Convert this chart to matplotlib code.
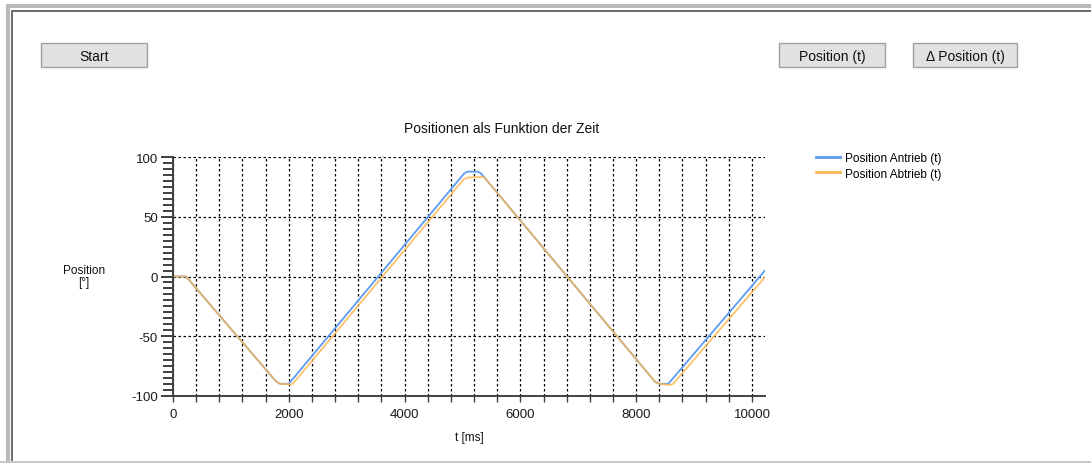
import matplotlib
matplotlib.use('Agg')
import matplotlib.pyplot as plt
from matplotlib.patches import Rectangle
from matplotlib.lines import Line2D
from matplotlib.ticker import MultipleLocator

W, H = 1091, 464

# Stützpunkte der Positionsverläufe (Zeit in ms, Position in Grad)
t_antrieb = [0, 225, 1780, 1850, 2000, 5030, 5090, 5260, 5320, 8330, 8400, 8555, 10225]
pos_antrieb = [0, 0, -88, -90, -90, 86.5, 88, 88, 86.5, -88.5, -90, -90, 5]

t_abtrieb = [0, 225, 1780, 1850, 2040, 2070, 5020, 5080, 5330, 5380, 8330, 8400, 8590, 8640, 10225]
pos_abtrieb = [0, 0, -88, -90, -90.5, -90, 81.5, 83, 83.5, 83, -88.5, -90, -91, -90, -0.5]

series_labels = ['Position Antrieb (t)', 'Position Abtrieb (t)']
button_labels = ['Start', 'Position (t)', '\u0394 Position (t)']

x_max = 10225
y_min, y_max = -100, 100

blue = '#5b9cf2'
orange = '#fdb751'
plt.rcParams['font.family'] = ['Liberation Sans', 'DejaVu Sans']
plt.rcParams['axes.unicode_minus'] = False


def fig_rect(x0, y0, x1, y1):
    # Pixelkoordinaten (oben links) in Figure-Koordinaten umrechnen
    return (x0 / W, 1 - y1 / H), (x1 - x0) / W, (y1 - y0) / H


fig = plt.figure(figsize=(W / 100, H / 100), dpi=100)
fig.patch.set_facecolor('white')

# Fensterrahmen
for (x0, y0, x1, y1), col in [((6, 5, W + 5, 9), '#b9b9b9'),
                              ((6, 5, 10, H + 5), '#b9b9b9'),
                              ((0, 461.5, W, H), '#c8c8c8'),
                              ((11, 11, W + 5, 12.5), '#6e6e6e'),
                              ((11, 11, 12.5, 462), '#6e6e6e')]:
    xy, w, h = fig_rect(x0, y0, x1, y1)
    fig.add_artist(Rectangle(xy, w, h, transform=fig.transFigure,
                             facecolor=col, edgecolor='none'))

# Schaltflächen
buttons = [(41, 44, 147, 67.5), (779, 44, 885, 67.5), (913, 44, 1017, 67.5)]
for (x0, y0, x1, y1), label in zip(buttons, button_labels):
    xy, w, h = fig_rect(x0, y0, x1, y1)
    fig.add_artist(Rectangle(xy, w, h, transform=fig.transFigure,
                             facecolor='#e1e1e1', edgecolor='#a0a0a0', lw=1))
    fig.text((x0 + x1) / 2 / W, 1 - ((y0 + y1) / 2 + 1) / H, label,
             ha='center', va='center', fontsize=10, color='#111111')

# Diagramm
ax = fig.add_axes([173 / W, 1 - 396.7 / H, 592 / W, 238.4 / H])
ax.plot(t_antrieb, pos_antrieb, color=blue, lw=1.3, label=series_labels[0],
        solid_joinstyle='round')
ax.plot(t_abtrieb, pos_abtrieb, color=orange, lw=1.3, alpha=0.85,
        label=series_labels[1], solid_joinstyle='round')

ax.set_xlim(0, x_max)
ax.set_ylim(y_min, y_max)
ax.xaxis.set_major_locator(MultipleLocator(2000))
ax.xaxis.set_minor_locator(MultipleLocator(400))
ax.yaxis.set_major_locator(MultipleLocator(50))
ax.yaxis.set_minor_locator(MultipleLocator(5))

ax.grid(True, which='major', axis='y', color='black', ls=(0, (2, 2)), lw=0.9)
ax.grid(True, which='both', axis='x', color='black', ls=(0, (2, 2)), lw=0.9)
ax.set_axisbelow(True)

for side in ('top', 'right'):
    ax.spines[side].set_visible(False)
for side in ('left', 'bottom'):
    ax.spines[side].set_color('#404040')
    ax.spines[side].set_linewidth(1.4)

ax.tick_params(axis='y', which='major', length=9, width=1.4, color='#404040',
               labelsize=9.5, labelcolor='#1a1a1a', pad=2)
ax.tick_params(axis='y', which='minor', length=7, width=1.4, color='#404040')
ax.tick_params(axis='x', which='both', length=4, width=1.0, color='#404040',
               labelsize=9.5, labelcolor='#1a1a1a', pad=5)

# Titel über dem gesamten Diagrammbereich zentriert
fig.text(502 / W, 1 - 129 / H, 'Positionen als Funktion der Zeit',
         ha='center', va='center', fontsize=10, color='#111111')
ax.set_xlabel('t [ms]', fontsize=8.5, labelpad=8, color='#111111')
fig.text(84 / W, 1 - 277 / H, 'Position\n[°]', ha='center', va='center',
         fontsize=8.5, linespacing=1.0, color='#111111')

handles = [Line2D([], [], color=blue, lw=2), Line2D([], [], color=orange, lw=2)]
fig.legend(handles, series_labels, loc='upper left',
           bbox_to_anchor=(816 / W, 1 - 153 / H), frameon=False,
           fontsize=8.5, handlelength=2.0, handletextpad=0.45,
           labelspacing=0.3, borderpad=0, borderaxespad=0)

fig.savefig('out.png', dpi=100)
